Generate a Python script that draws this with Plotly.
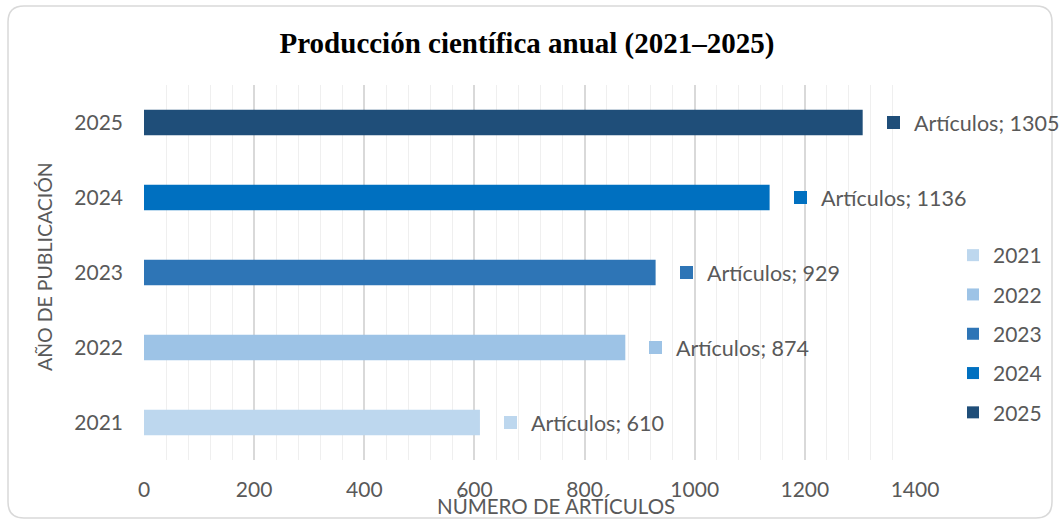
import plotly.graph_objects as go

years = ["2021", "2022", "2023", "2024", "2025"]
articles = [610, 874, 929, 1136, 1305]
colors = ["#BDD7EE", "#9DC3E6", "#2E75B6", "#0070C0", "#1F4E79"]
label_prefix = "Artículos"
x_ticks = [0, 200, 400, 600, 800, 1000, 1200, 1400]

W, H = 1059, 520
ML, MR, MT, MB = 144, 144, 85, 60
PW, PH = W - ML - MR, H - MT - MB

def px_to_paper_x(px):
    return (px - ML) / PW

def px_to_paper_y(py):
    return (H - MB - py) / PH

FONT = "Lato, Carlito, Calibri, sans-serif"
GRAY = "#595959"

fig = go.Figure()
for i, (yr, val, col) in enumerate(zip(years, articles, colors)):
    fig.add_trace(go.Bar(
        x=[val], y=[yr], orientation="h", name=yr,
        marker=dict(color=col, line=dict(width=0)),
        width=0.34, legendgroup=yr, showlegend=True,
        hoverinfo="x+y",
    ))
    # data-label legend key square
    fig.add_annotation(
        x=val, y=i, xref="x", yref="y", text=" ",
        width=13, height=13, bgcolor=col, borderpad=0, borderwidth=0,
        font=dict(size=4),
        showarrow=False, xanchor="left", yanchor="middle", xshift=24,
    )
    fig.add_annotation(
        x=val, y=i, xref="x", yref="y",
        text=f"{label_prefix}; {val}",
        font=dict(family=FONT, size=21.5, color=GRAY),
        showarrow=False, xanchor="left", yanchor="middle", xshift=49, yshift=0,
    )

# titles
fig.add_annotation(
    text="AÑO DE PUBLICACIÓN", textangle=-90,
    x=px_to_paper_x(44), y=px_to_paper_y(266), xref="paper", yref="paper",
    xanchor="center", yanchor="middle",
    showarrow=False, font=dict(family=FONT, size=19.5, color=GRAY),
)
fig.add_annotation(
    text="NÚMERO DE ARTÍCULOS",
    x=px_to_paper_x(556), y=px_to_paper_y(506), xref="paper", yref="paper",
    xanchor="center", yanchor="middle",
    showarrow=False, font=dict(family=FONT, size=20.5, color=GRAY),
)

# rounded border
x0, y0, x1, y1 = px_to_paper_x(8), px_to_paper_y(6), px_to_paper_x(1052), px_to_paper_y(518)
rx = 16 / PW
ry = 16 / PH
path = (f"M {x0+rx},{y0} L {x1-rx},{y0} Q {x1},{y0} {x1},{y0-ry} "
        f"L {x1},{y1+ry} Q {x1},{y1} {x1-rx},{y1} "
        f"L {x0+rx},{y1} Q {x0},{y1} {x0},{y1+ry} "
        f"L {x0},{y0-ry} Q {x0},{y0} {x0+rx},{y0} Z")
fig.add_shape(type="path", path=path, xref="paper", yref="paper",
              line=dict(color="#D9D9D9", width=1.5), layer="below")

fig.update_layout(
    width=W, height=H,
    margin=dict(l=ML, r=MR, t=MT, b=MB, autoexpand=False),
    paper_bgcolor="white", plot_bgcolor="white",
    barmode="overlay",
    title=dict(text="<b>Producción científica anual (2021–2025)</b>",
               x=px_to_paper_x(527), xref="paper", xanchor="center",
               y=1 - 43 / H, yref="container", yanchor="middle",
               font=dict(family="Liberation Serif, Times New Roman, serif", size=29, color="black")),
    xaxis=dict(range=[0, 1400], tickvals=x_ticks, showgrid=True,
               gridcolor="#D9D9D9", gridwidth=1.5, zeroline=False,
               showline=False,
               minor=dict(dtick=40, showgrid=True, gridcolor="#EFEFEF", gridwidth=1),
               tickfont=dict(family=FONT, size=21, color=GRAY),
               ticklabelstandoff=15, fixedrange=True),
    yaxis=dict(type="category", categoryorder="array", categoryarray=years,
               range=[-0.5, 4.5], showgrid=False, zeroline=False,
               showline=False,
               tickfont=dict(family=FONT, size=21, color=GRAY),
               ticklabelstandoff=20, fixedrange=True),
    legend=dict(x=px_to_paper_x(953), y=px_to_paper_y(235), xanchor="left", yanchor="top",
                traceorder="grouped", tracegroupgap=9,
                font=dict(family=FONT, size=21, color=GRAY),
                itemwidth=30, bgcolor="rgba(0,0,0,0)"),
    showlegend=True,
)

fig.write_html("out.html", config={"displayModeBar": False},
               post_script="document.body.style.margin='0';document.body.style.overflow='hidden';")
